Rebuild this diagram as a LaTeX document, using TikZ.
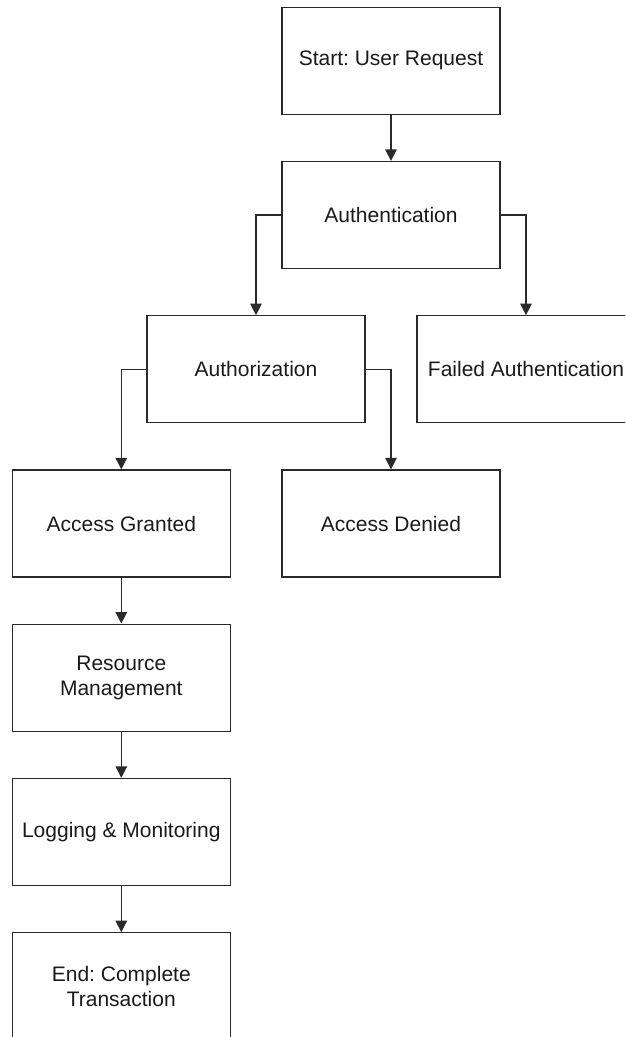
\documentclass[tikz,border=0pt]{standalone}
\usepackage{fontspec}
\setmainfont{Liberation Sans}
\usetikzlibrary{arrows.meta}
\frenchspacing
\definecolor{ink}{HTML}{2A2A2A}
\definecolor{txt}{HTML}{1A1A1A}
\tikzset{
  flowbox/.style={draw=ink, line width=1.3pt, minimum width=218pt, minimum height=107pt,
    inner sep=0pt, align=center, text=txt, font=\fontsize{21}{25}\selectfont},
  flowarrow/.style={draw=ink, line width=1.3pt, -{Triangle[length=11.5pt,width=11.5pt]}}
}
\begin{document}
\begin{tikzpicture}[x=1pt, y=-1pt]
  \useasboundingbox (0,0) rectangle (625,1037);
  \clip (0,0) rectangle (625,1037);
  % boxes
  \node[flowbox] (start)    at (391,60.8)   {Start: User Request};
  \node[flowbox] (auth)     at (391,215)    {Authentication};
  \node[flowbox] (authz)    at (256,369.3)  {Authorization};
  \node[flowbox] (failed)   at (526,369.3)  {Failed Authentication};
  \node[flowbox] (granted)  at (121.3,523.5){Access Granted};
  \node[flowbox] (denied)   at (391,523.5)  {Access Denied};
  \node[flowbox] (resource) at (121.3,677.7){Resource\\Management};
  \node[flowbox] (logging)  at (121.3,832)  {Logging \& Monitoring};
  \node[flowbox] (finish)   at (121.3,986.3){End: Complete\\Transaction};
  % connectors
  \draw[flowarrow] (start.south) -- (auth.north);
  \draw[flowarrow] (auth.west) -| (authz.north);
  \draw[flowarrow] (auth.east) -| (failed.north);
  \draw[flowarrow] (authz.west) -| (granted.north);
  \draw[flowarrow] (authz.east) -| (denied.north);
  \draw[flowarrow] (granted.south) -- (resource.north);
  \draw[flowarrow] (resource.south) -- (logging.north);
  \draw[flowarrow] (logging.south) -- (finish.north);
\end{tikzpicture}
\end{document}
